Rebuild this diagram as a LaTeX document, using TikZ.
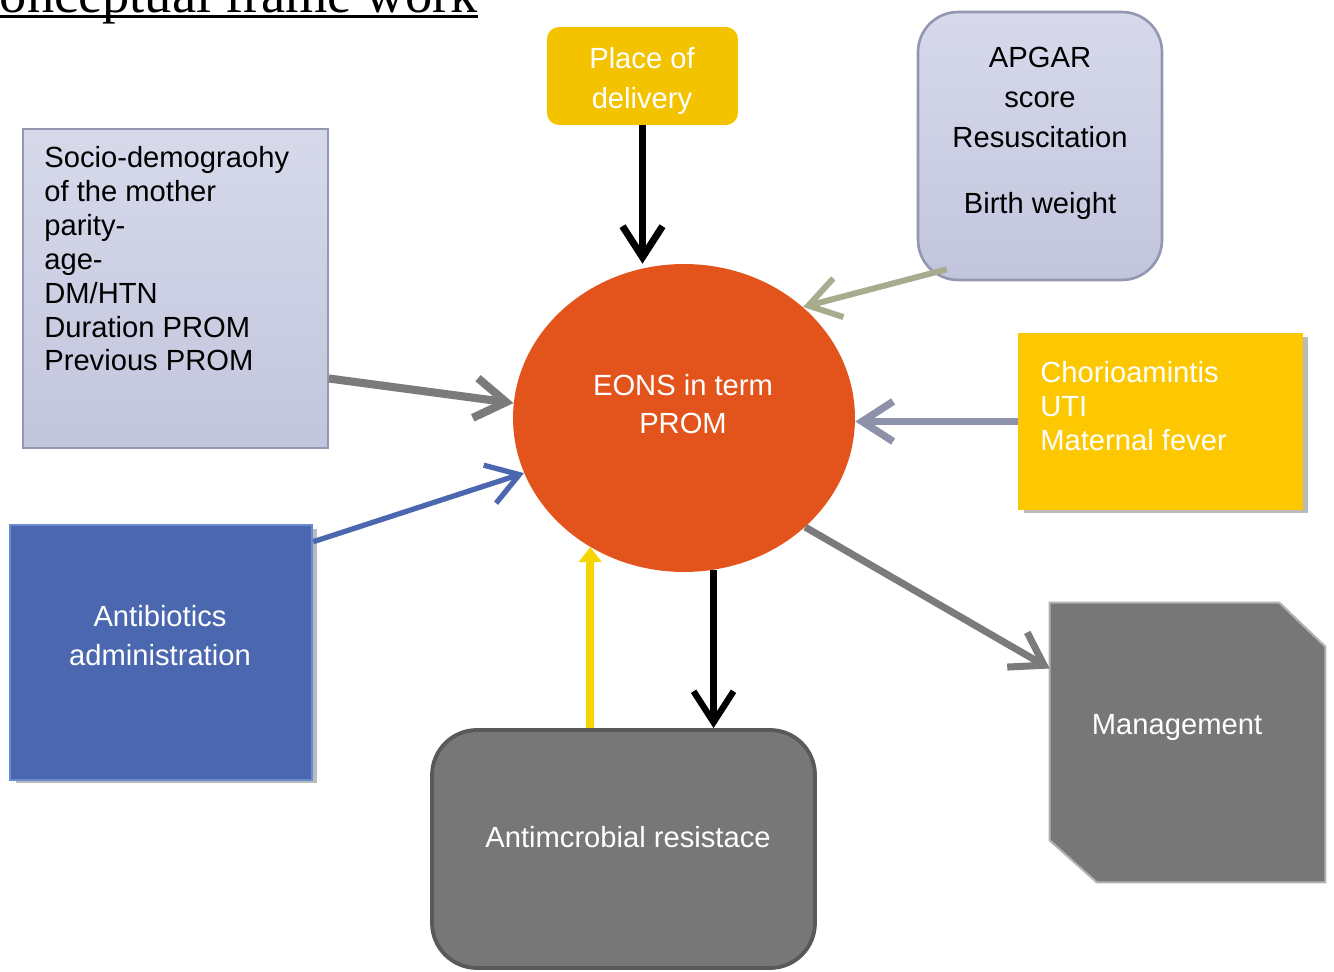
\documentclass[tikz,border=0pt]{standalone}
\usepackage{fontspec}
\setmainfont{Liberation Sans}
\newfontfamily\titlefont{Liberation Serif}
\usetikzlibrary{arrows.meta, shapes.geometric, shadows}

\definecolor{eonsorange}{HTML}{E3541C}
\definecolor{placeyellow}{HTML}{F4C300}
\definecolor{chorioyellow}{HTML}{FDC800}
\definecolor{lavtop}{HTML}{D7D9EB}
\definecolor{lavbot}{HTML}{C2C5DC}
\definecolor{lavline}{HTML}{9497B2}
\definecolor{abblue}{HTML}{4A67AF}
\definecolor{abline}{HTML}{6A8AD2}
\definecolor{boxgray}{HTML}{777777}
\definecolor{grayline}{HTML}{595959}
\definecolor{khaki}{HTML}{A9AB8E}
\definecolor{bluegray}{HTML}{8D92AA}
\definecolor{arrowgray}{HTML}{7B7B7B}
\definecolor{arrowyellow}{HTML}{F7D600}

\begin{document}
\begin{tikzpicture}[x=0.02cm, y=-0.02cm,
	lavbox/.style={draw=lavline, line width=1pt, top color=lavtop, bottom color=lavbot},
	shadowbox/.style={drop shadow={shadow xshift=0.11cm, shadow yshift=-0.07cm, fill=black!45, opacity=.6}},
	whitetext/.style={text=white, inner sep=0},
	blacktext/.style={text=black, inner sep=0},
	barb/.style={-{Straight Barb[length=0.62cm, width=0.8cm]}, line join=round},
	every node/.style={font=\fontsize{16.6}{20}\selectfont}
	]
	\useasboundingbox (0,0) rectangle (1334,972);

	\node (title) at (478,13) [anchor=base east, inner sep=0, font=\titlefont\fontsize{31}{36}\selectfont] {Conceptual frame work};
	\draw [line width=0.06cm] ([yshift=-0.07cm]title.base west) -- ([yshift=-0.07cm]title.base east);

	% boxes
	\node (delivery) at (642.5,76) [fill=placeyellow, rounded corners=0.24cm, minimum width=3.82cm, minimum height=1.96cm] {};
	\node (apgar) at (1040,146) [lavbox, line width=1.5pt, rounded corners=0.8cm, minimum width=4.88cm, minimum height=5.36cm] {};
	\node (sociodemo) at (175.5,288.5) [lavbox, minimum width=6.1cm, minimum height=6.38cm] {};
	\node (eons) at (684,418) [ellipse, fill=eonsorange, minimum width=6.84cm, minimum height=6.16cm] {};
	\node (chorio) at (1160.5,421.5) [shadowbox, fill=chorioyellow, minimum width=5.7cm, minimum height=3.54cm] {};
	\node (antibiotics) at (161,652.5) [shadowbox, fill=abblue, draw=abline, line width=1.5pt, minimum width=6.04cm, minimum height=5.1cm] {};
	\node (resistance) at (623.5,849) [fill=boxgray, draw=grayline, line width=2.2pt, rounded corners=0.9cm, minimum width=7.66cm, minimum height=4.76cm] {};
	\node (management) at (1187.5,742.5) [minimum width=5.5cm, minimum height=5.58cm] {};
	\filldraw [fill=boxgray, draw=black!30, line width=1.2pt] (management.north west) -- ([xshift=-0.92cm]management.north east)
		-- ([yshift=-0.88cm]management.north east) -- (management.south east)
		-- ([xshift=0.94cm]management.south west) -- ([yshift=0.84cm]management.south west) -- cycle;

	% texts
	\node (deliverytext) at (642,81) [whitetext, align=center, font=\fontsize{16.6}{22.8}\selectfont] {Place of\\delivery};
	\node (apgartext) at (1040,47) [blacktext, anchor=north, align=center, font=\fontsize{16.6}{22.6}\selectfont] {APGAR\\score\\Resuscitation\\[15pt]Birth weight};
	\node (sociotext) at (44,146) [blacktext, anchor=north west, align=left, font=\fontsize{16.6}{19.3}\selectfont] {Socio-demograohy\\of the mother\\parity-\\age-\\DM/HTN\\Duration PROM\\Previous PROM};
	\node (eonstext) at (683,404) [whitetext, align=center, font=\fontsize{16.6}{21.6}\selectfont] {EONS in term\\PROM};
	\node (choriotext) at (1040,361) [whitetext, anchor=north west, align=left, font=\fontsize{16.6}{19.3}\selectfont] {Chorioamintis\\UTI\\Maternal fever};
	\node (antibioticstext) at (160,636) [whitetext, align=center, font=\fontsize{16.6}{22.2}\selectfont] {Antibiotics\\administration};
	\node (resistancetext) at (628,837) [whitetext] {Antimcrobial resistace};
	\node (managementtext) at (1177,727) [whitetext] {Management};

	% arrows
	\draw [barb, black, line width=4pt] (delivery.south) -- (delivery.south |- eons.north);
	\draw [barb, khaki, line width=3.4pt] ([shift={(30,-12)}]apgar.south west) -- (eons.43);
	\draw [barb, bluegray, line width=4.2pt] (chorio.west) -- (chorio.west -| eons.east);
	\draw [barb, arrowgray, line width=4.6pt] ([yshift=-1.8cm]sociodemo.east) -- (eons.175);
	\draw [barb, abblue, line width=3pt] ([yshift=-0.36cm]antibiotics.north east) -- (eons.199);
	\draw [-{Triangle[length=0.3cm, width=0.45cm]}, arrowyellow, line width=4.4pt] (eons.234 |- resistance.north) -- (eons.234);
	\draw [barb, black, line width=3.6pt] (eons.281) -- (eons.281 |- resistance.north);
	\draw [barb, arrowgray, line width=4pt] (eons.318) -- ([yshift=1.48cm]management.west);
\end{tikzpicture}
\end{document}
